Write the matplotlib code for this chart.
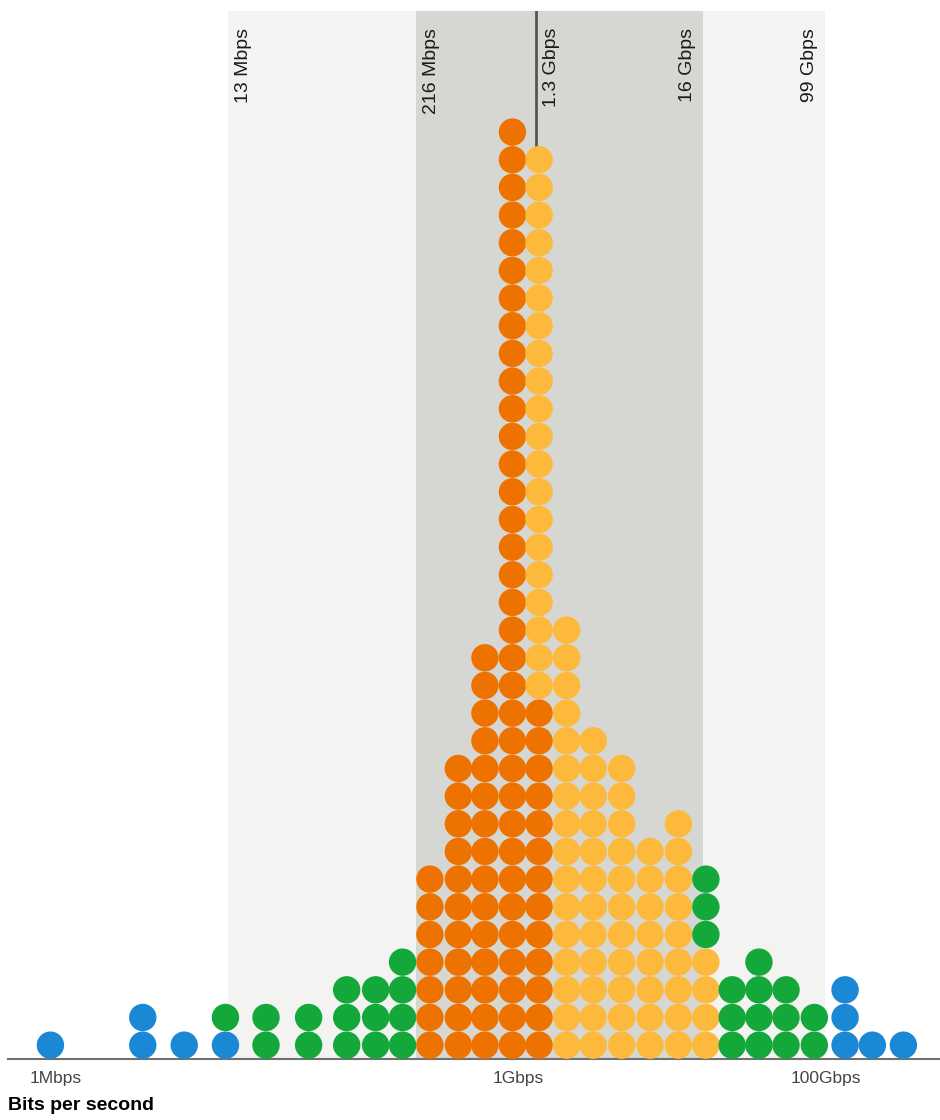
import matplotlib
matplotlib.use('Agg')
import matplotlib.pyplot as plt
import matplotlib.transforms as mtransforms
import numpy as np

plt.rcParams['font.family'] = ['Liberation Sans', 'DejaVu Sans']

# column positions (Gbps) and dot counts per colour
col_gbps = [0.00092, 0.00366, 0.0068, 0.0126, 0.0231, 0.0437, 0.0772, 0.119, 0.178,
            0.268, 0.410, 0.610, 0.92, 1.37,
            2.07, 3.08, 4.71, 7.2, 11.0, 16.6,
            24.6, 36.7, 55.0, 84.0,
            133.0, 200.0, 318.0]
blue_counts   = [1, 2, 1, 1, 0, 0, 0, 0, 0,  0, 0, 0, 0, 0,   0, 0, 0, 0, 0, 0,  0, 0, 0, 0,  3, 1, 1]
orange_counts = [0, 0, 0, 0, 0, 0, 0, 0, 0,  7, 11, 15, 34, 13, 0, 0, 0, 0, 0, 0,  0, 0, 0, 0,  0, 0, 0]
yellow_counts = [0, 0, 0, 0, 0, 0, 0, 0, 0,  0, 0, 0, 0, 20,  16, 12, 11, 8, 9, 4, 0, 0, 0, 0,  0, 0, 0]
green_counts  = [0, 0, 0, 1, 2, 2, 3, 3, 4,  0, 0, 0, 0, 0,   0, 0, 0, 0, 0, 3,  3, 4, 3, 2,  0, 0, 0]

outer_band = (0.013, 99.0)      # 13 Mbps .. 99 Gbps
inner_band = (0.216, 16.0)      # 216 Mbps .. 16 Gbps
median_gbps = 1.3

band_labels = ['13 Mbps', '216 Mbps', '1.3 Gbps', '16 Gbps', '99 Gbps']
band_label_pos = [0.013, 0.216, 1.3, 16.0, 99.0]
band_label_side = [1, 1, 1, -1, -1]

tick_vals = [0.001, 1, 100]
tick_text = ['1Mbps', '1Gbps', '100Gbps']

colors = {'blue': '#1a88d4', 'orange': '#ee7200', 'yellow': '#fdb93c', 'green': '#14a83b'}

W, H = 940, 1120
fig = plt.figure(figsize=(W / 100, H / 100), dpi=100)
base_px, top_px = 1059, 11
ax = fig.add_axes([8 / W, (H - base_px) / H, 932 / W, (base_px - top_px) / H])

pitch = 27.67  # px per row
ymax = (base_px - top_px) / pitch
ax.set_xscale('log')
ax.set_xlim(10 ** ((8 - 518) / 154), 10 ** ((940 - 518) / 154))
ax.set_ylim(0, ymax)

ax.axvspan(*outer_band, color='#f3f3f1', lw=0, zorder=0)
ax.axvspan(*inner_band, color='#d6d7d2', lw=0, zorder=0.5)

# stack dots bottom-up: blue, orange, yellow, green
xs, ys, cs = [], [], []
heights = []
for i, x in enumerate(col_gbps):
    k = 0
    for name, counts in [('blue', blue_counts), ('orange', orange_counts),
                         ('yellow', yellow_counts), ('green', green_counts)]:
        for _ in range(counts[i]):
            xs.append(x)
            ys.append(k + 0.5)
            cs.append(colors[name])
            k += 1
    heights.append(k)

# median line stops at the top of the column it sits on
med_col = int(np.argmin([abs(np.log10(c / median_gbps)) for c in col_gbps]))
ax.axvline(median_gbps, ymin=heights[med_col] / ymax, color='#555555', lw=2.0, zorder=1)

d_pt = 27.4 * 72 / 100
ax.scatter(xs, ys, s=d_pt ** 2, c=cs, linewidths=0, zorder=3, clip_on=False)

# band labels
trans = mtransforms.blended_transform_factory(ax.transData, ax.transAxes)
for lab, pos, side in zip(band_labels, band_label_pos, band_label_side):
    t = mtransforms.offset_copy(trans, fig=fig, x=side * 16 * 0.72, y=0, units='points')
    ax.text(pos, (base_px - 28) / (base_px - top_px), lab, rotation=90, transform=t,
            ha='center', va='top', fontsize=14, color='#1a1a1a')

for s in ['top', 'left', 'right']:
    ax.spines[s].set_visible(False)
ax.spines['bottom'].set_color('#707070')
ax.spines['bottom'].set_linewidth(1.5)
ax.set_yticks([])
ax.set_xticks(tick_vals)
ax.set_xticklabels(tick_text)
ax.xaxis.set_minor_locator(matplotlib.ticker.NullLocator())
ax.tick_params(axis='x', length=0, pad=9, labelsize=12.5, labelcolor='#444444')

fig.text(8 / W, (H - 1106) / H, 'Bits per second', fontsize=14, fontweight='bold',
         ha='left', va='center', color='black')

fig.savefig('out.png', dpi=100, facecolor='white')
